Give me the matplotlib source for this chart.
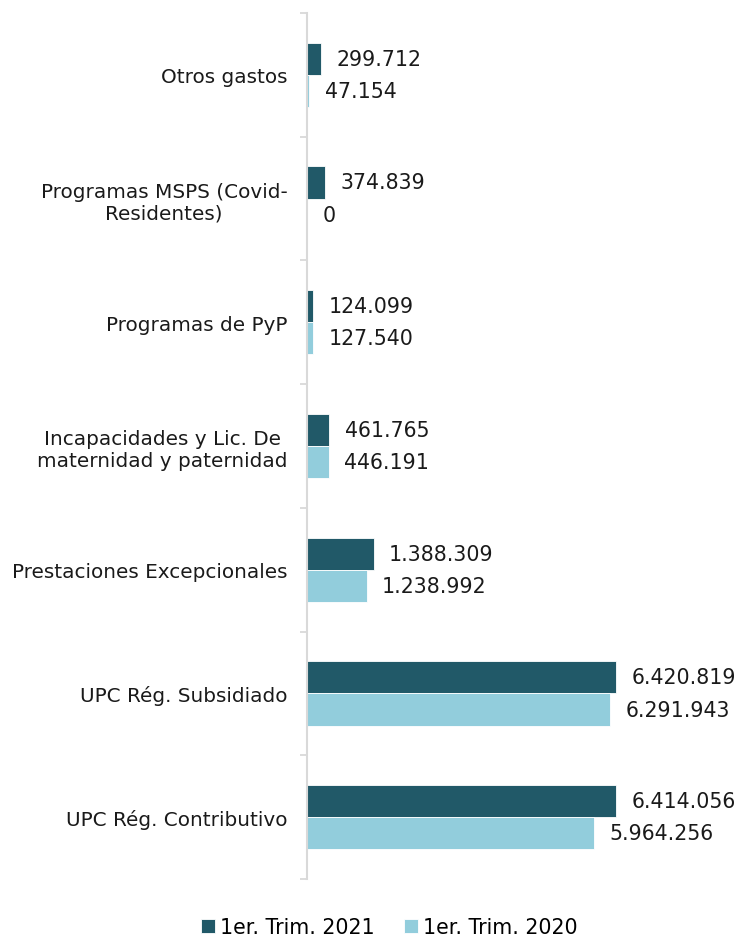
import numpy as np
import matplotlib
matplotlib.use('Agg')
import matplotlib.pyplot as plt

plt.rcParams['font.family'] = ['DejaVu Sans']

categories = ['Otros gastos',
              'Programas MSPS (Covid-\nResidentes)',
              'Programas de PyP',
              'Incapacidades y Lic. De\nmaternidad y paternidad',
              'Prestaciones Excepcionales',
              'UPC Rég. Subsidiado',
              'UPC Rég. Contributivo']
trim2021 = [299712, 374839, 124099, 461765, 1388309, 6420819, 6414056]
trim2020 = [47154, 0, 127540, 446191, 1238992, 6291943, 5964256]
series_names = ['1er. Trim. 2021', '1er. Trim. 2020']

darkColor = '#215968'
lightColor = '#92CDDC'
valueFont = {'size': 14.8, 'color': '#1a1a1a'}
catFont = {'size': 14.4, 'color': '#1a1a1a'}


def miles(v):
    return '{:,}'.format(v).replace(',', '.')


fig = plt.figure(figsize=(7.4, 9.37), dpi=100)
ax = fig.add_axes([307/740, 1 - 880/937, 393/740, 866/937])

n = len(categories)
y = np.arange(n)[::-1]  # first category on top
h = 0.26

b21 = ax.barh(y + h/2, trim2021, height=h, color=darkColor, edgecolor='white',
              linewidth=0.6, label=series_names[0])
b20 = ax.barh(y - h/2, trim2020, height=h, color=lightColor, edgecolor='white',
              linewidth=0.6, label=series_names[1])

for bars, vals in [(b21, trim2021), (b20, trim2020)]:
    for b, v in zip(bars, vals):
        ax.annotate(miles(v), (b.get_width(), b.get_y() + b.get_height()/2),
                    xytext=(11, 0), textcoords='offset points',
                    va='center', ha='left', **valueFont)

ax.set_xlim(0, 8.155e6)
ax.set_ylim(-0.5, n - 0.5)

ax.set_yticks(y)
ax.set_yticklabels(categories, multialignment='center', **catFont)
ax.set_yticks(np.arange(-0.5, n, 1.0), minor=True)
ax.tick_params(axis='y', which='major', length=0, pad=14)
ax.tick_params(axis='y', which='minor', length=5, width=1.3, color='#d9d9d9',
               direction='out')
ax.set_xticks([])

for s in ['top', 'right', 'bottom']:
    ax.spines[s].set_visible(False)
ax.spines['left'].set_color('#d9d9d9')
ax.spines['left'].set_linewidth(1.5)

fig.legend(handles=[b21, b20], labels=series_names, loc='center',
           bbox_to_anchor=(0.526, 1 - 928/937), ncol=2, frameon=False,
           handlelength=0.65, handleheight=0.65, handletextpad=0.25,
           columnspacing=1.45, borderpad=0, prop={'size': 14.8})

fig.savefig('out.png', dpi=100)
